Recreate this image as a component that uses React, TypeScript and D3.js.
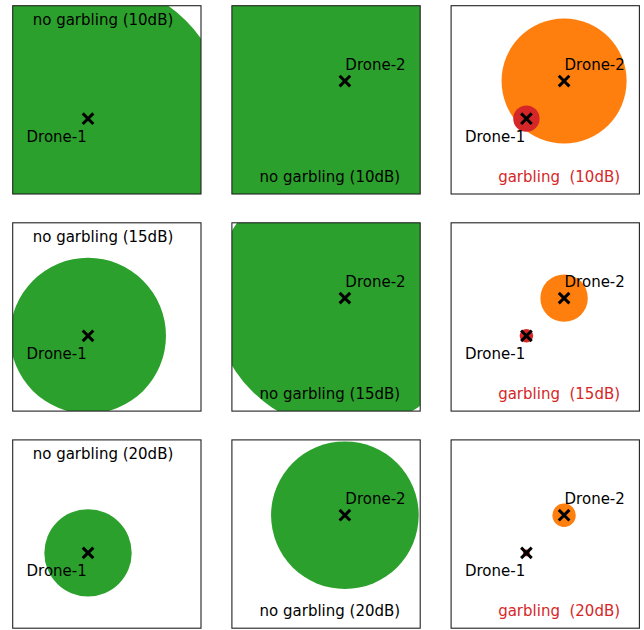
import React from "react";
import * as d3 from "d3";

// ---- data ----
const dBLevels = [10, 15, 20];
const droneNames = ["Drone-1", "Drone-2"];
const droneX = [2, 3];
const droneY = [2, 3];
// panel column 1: Drone-1 alone, column 2: Drone-2 alone, column 3: both (garbling)
const drone1Radius = [3.68, 2.07, 1.16];
const drone2Radius = [6.2, 3.49, 1.96];
const garbleDrone2Radius = [1.66, 0.63, 0.31];
const garbleDrone1Radius = [0.35, 0.18, 0.09];
const domain = [0, 5];

const GREEN = "#2ca02c";
const ORANGE = "#ff7f0e";
const RED = "#d62728";
const FONT = "DejaVu Sans, sans-serif";

const W = 644;
const H = 630;
const panelSize = 188.3;
const colX = [12.7, 231.9, 451.1];
const rowY = [5.7, 222.8, 439.9];

function Cross({ cx, cy }: { cx: number; cy: number }) {
  const s = 5.3;
  return (
    <g stroke="#000" strokeWidth={3} strokeLinecap="butt">
      <line x1={cx - s} y1={cy - s} x2={cx + s} y2={cy + s} />
      <line x1={cx - s} y1={cy + s} x2={cx + s} y2={cy - s} />
    </g>
  );
}

export default function App() {
  const x = d3.scaleLinear().domain(domain).range([0, panelSize]);
  const y = d3.scaleLinear().domain(domain).range([panelSize, 0]);
  const r = (v: number) => x(v) - x(0);

  const panels: React.ReactNode[] = [];
  dBLevels.forEach((db, ri) => {
    for (let ci = 0; ci < 3; ci++) {
      const ox = colX[ci];
      const oy = rowY[ri];
      const id = `clip-${ri}-${ci}`;
      const circles: React.ReactNode[] = [];
      const labels: React.ReactNode[] = [];
      const showD1 = ci === 0 || ci === 2;
      const showD2 = ci === 1 || ci === 2;
      if (ci === 0) {
        circles.push(
          <circle key="c1" cx={x(droneX[0])} cy={y(droneY[0])} r={r(drone1Radius[ri])} fill={GREEN} />
        );
      } else if (ci === 1) {
        circles.push(
          <circle key="c2" cx={x(droneX[1])} cy={y(droneY[1])} r={r(drone2Radius[ri])} fill={GREEN} />
        );
      } else {
        circles.push(
          <circle key="g2" cx={x(droneX[1])} cy={y(droneY[1])} r={r(garbleDrone2Radius[ri])} fill={ORANGE} />
        );
        circles.push(
          <circle key="g1" cx={x(droneX[0])} cy={y(droneY[0])} r={r(garbleDrone1Radius[ri])} fill={RED} />
        );
      }
      if (showD1) {
        labels.push(
          <text key="l1" x={x(droneX[0]) - 61.5} y={y(droneY[0]) + 23} fontSize={15} fontFamily={FONT} fill="#000">
            {droneNames[0]}
          </text>
        );
      }
      if (showD2) {
        labels.push(
          <text key="l2" x={x(droneX[1]) + 0.5} y={y(droneY[1]) - 11.5} fontSize={15} fontFamily={FONT} fill="#000">
            {droneNames[1]}
          </text>
        );
      }
      const title =
        ci === 2 ? `garbling  (${db}dB)` : `no garbling (${db}dB)`;
      const titleX = ci === 0 ? 90.3 : ci === 1 ? 98 : 108;
      const titleY = ci === 0 ? 19.3 : 176;
      panels.push(
        <g key={id} transform={`translate(${ox},${oy})`}>
          <defs>
            <clipPath id={id}>
              <rect x={0} y={0} width={panelSize} height={panelSize} />
            </clipPath>
          </defs>
          <g clipPath={`url(#${id})`}>
            {circles}
            {showD1 && <Cross cx={x(droneX[0])} cy={y(droneY[0])} />}
            {showD2 && <Cross cx={x(droneX[1])} cy={y(droneY[1])} />}
          </g>
          {labels}
          <text
            x={titleX}
            y={titleY}
            textAnchor="middle"
            fontSize={15}
            fontFamily={FONT}
            fill={ci === 2 ? RED : "#000"}
            style={{ whiteSpace: "pre" }}
          >
            {title}
          </text>
          <rect x={0} y={0} width={panelSize} height={panelSize} fill="none" stroke="#222" strokeWidth={1.1} />
        </g>
      );
    }
  });

  return (
    <svg
      width={W}
      height={H}
      style={{ position: "absolute", left: 0, top: 0, background: "#fff" }}
    >
      <rect x={0} y={0} width={W} height={H} fill="#fff" />
      {panels}
    </svg>
  );
}
